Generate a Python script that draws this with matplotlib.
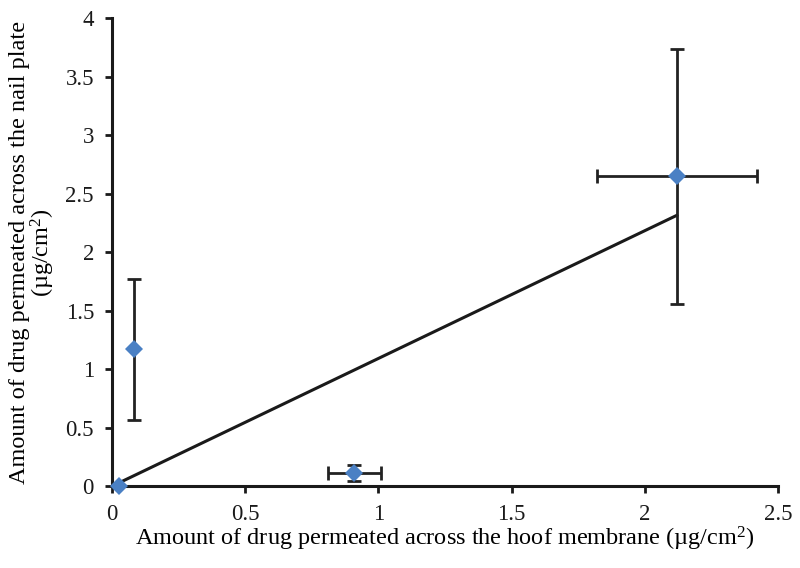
import matplotlib
matplotlib.use('Agg')
import matplotlib.pyplot as plt
import numpy as np

plt.rcParams['font.family'] = ['Liberation Serif', 'DejaVu Serif']
plt.rcParams['mathtext.fontset'] = 'custom'
plt.rcParams['mathtext.rm'] = 'Liberation Serif'
plt.rcParams['mathtext.it'] = 'Liberation Serif:italic'

# data
hoof = [0.025, 0.083, 0.91, 2.12]
nail = [0.0, 1.17, 0.115, 2.65]
hoof_err = [0.0, 0.0, 0.10, 0.30]
nail_err = [0.0, 0.60, 0.07, 1.09]

xticks = [0, 0.5, 1, 1.5, 2, 2.5]
xticklabels = ['0', '0.5', '1', '1.5', '2', '2.5']
yticks = [0, 0.5, 1, 1.5, 2, 2.5, 3, 3.5, 4]
yticklabels = ['0', '0.5', '1', '1.5', '2', '2.5', '3', '3.5', '4']

# linear trend through the origin
x = np.array(hoof)
y = np.array(nail)
slope = np.sum(x * y) / np.sum(x * x)
xfit = np.array([x.min(), x.max()])

fig = plt.figure(figsize=(8, 5.68), dpi=100)
ax = fig.add_axes([0.14, 0.144, 0.8325, 0.824])

ax.plot(xfit, slope * xfit, '-', color='#1a1a1a', lw=2.2, zorder=2)
ax.errorbar(hoof, nail, xerr=hoof_err, yerr=nail_err, fmt='none',
            ecolor='#222222', elinewidth=2, capsize=5, capthick=2, zorder=3)
ax.plot(hoof, nail, 'D', color='#4a80c4', markersize=9.5, markeredgewidth=0, zorder=4,
        clip_on=False)

ax.set_xlim(0, 2.5)
ax.set_ylim(0, 4)
ax.set_xticks(xticks)
ax.set_xticklabels(xticklabels)
ax.set_yticks(yticks)
ax.set_yticklabels(yticklabels)

for s in ['top', 'right']:
    ax.spines[s].set_visible(False)
for s in ['left', 'bottom']:
    ax.spines[s].set_linewidth(2.2)
    ax.spines[s].set_color('#1a1a1a')
ax.tick_params(direction='out', length=5, width=2, colors='#1a1a1a',
               labelsize=16.5, pad=8)

ax.set_xlabel('Amount of drug permeated across the hoof membrane (\u00b5g/cm$^{2}$)',
              size=17.5, labelpad=0)
ax.set_ylabel('Amount of drug permeated across the nail plate\n(\u00b5g/cm$^{2}$)',
              size=17.5, labelpad=6, linespacing=0.95)

fig.savefig('out.png', dpi=100)
